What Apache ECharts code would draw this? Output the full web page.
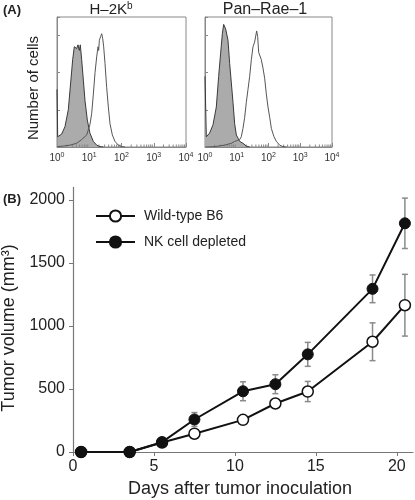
<!DOCTYPE html>
<html><head><meta charset="utf-8">
<script src="https://cdn.jsdelivr.net/npm/echarts@6/dist/echarts.min.js"></script>
<style>html,body{margin:0;padding:0;background:#fff}#c{width:415px;height:500px}</style>
</head><body><div id="c"></div>
<script>
// ---- Panel A: flow cytometry histograms (fluorescence, relative cell count) ----
const h2kIsoX = [1, 1.05, 1.40, 1.77, 2.24, 2.65, 3.06, 3.44, 3.79, 4.07, 4.48, 4.92, 5.28, 5.82, 6.56, 7.38, 8.71, 10.5, 13.4, 17.0, 21.5, 27.5];
const h2kIsoY = [62, 11, 14, 22, 40, 69, 94, 108, 110, 106, 110, 104, 110, 94, 72, 50, 29, 15, 6, 2, 0.4, 0];
const h2kStainX = [1.02, 1.57, 2.53, 4.07, 5.82, 8.32, 10.5, 11.9, 13.4, 15.1, 17.0, 18.7, 19.6, 20.6, 22.6, 24.3, 26.1, 28.0, 30.8, 34.7, 39.1, 44.0, 52.0, 62.8, 79.8, 101, 129];
const h2kStainY = [0.4, 1, 2, 4, 8, 13, 24, 36, 57, 80, 97, 108, 104, 115, 119, 122, 117, 108, 90, 64, 43, 25, 13, 6, 2, 0.4, 0];
const raeIsoX = [1, 1.10, 1.40, 1.79, 2.27, 2.69, 3.11, 3.52, 3.87, 4.16, 4.48, 4.81, 5.30, 5.98, 6.75, 7.62, 8.60, 9.70, 12.4, 15.7, 20.0, 25.5];
const raeIsoY = [76, 11, 15, 24, 43, 76, 101, 122, 132, 134, 127, 129, 115, 90, 69, 48, 25, 13, 6, 4, 1, 0];
const raeStainX = [1.02, 2.01, 4.16, 6.75, 8.60, 10.4, 12.4, 13.9, 15.7, 17.8, 20.0, 22.6, 25.5, 28.8, 32.5, 36.6, 39.4, 42.4, 45.6, 49.0, 52.7, 59.4, 67.1, 75.7, 85.5, 96.4, 109, 123, 149, 177, 225, 286, 365];
const raeStainY = [0, 0.4, 2, 4, 6, 7, 8, 11, 20, 32, 48, 62, 76, 94, 108, 113, 112, 125, 119, 102, 104, 94, 85, 74, 57, 43, 32, 20, 11, 6, 2, 0.4, 0];
const logMinorTicks = [2,3,4,5,6,7,8,9,20,30,40,50,60,70,80,90,200,300,400,500,600,700,800,900,2000,3000,4000,5000,6000,7000,8000,9000];

// ---- Panel B: tumor growth ----
const days = [0.5, 3.5, 5.5, 7.5, 10.5, 12.5, 14.5, 18.5, 20.5];
const wtMean = [0, 0, 75, 145, 255, 385, 480, 875, 1165];
const wtErr = [0, 0, 0, 15, 15, 30, 80, 150, 245];
const nkMean = [0, 0, 78, 258, 482, 538, 775, 1295, 1815];
const nkErr = [0, 0, 10, 55, 75, 75, 95, 110, 200];
const yTicksB = [0, 500, 1000, 1500, 2000];
const xTicksB = [0, 5, 10, 15, 20];
const legendNames = ['Wild-type B6', 'NK cell depleted'];

const FONT = 'Liberation Sans, Arial, Helvetica, sans-serif';
const zip = (a, b) => a.map((v, i) => [v, b[i]]);
const TXT = '#222';

function histX(idx) {
  return {
    type: 'log', logBase: 10, min: 1, max: 10000, gridIndex: idx,
    axisLine: { lineStyle: { color: '#888', width: 1 } },
    axisTick: { inside: true, length: 4, lineStyle: { color: '#888' } },
    splitLine: { show: false },
    axisLabel: {
      margin: 5, fontFamily: FONT, fontSize: 10, color: '#333',
      formatter: v => '10{s|' + Math.round(Math.log10(v)) + '}',
      rich: { s: { fontSize: 7, fontFamily: FONT, color: '#333', verticalAlign: 'bottom', padding: [0, 0, 6, 0] } }
    }
  };
}
function histY(idx) {
  return {
    type: 'value', min: 0, max: 140, interval: 40, gridIndex: idx,
    axisLine: { show: true, lineStyle: { color: '#888' } },
    axisTick: { show: true, inside: true, length: 3, lineStyle: { color: '#888' } },
    axisLabel: { show: false }, splitLine: { show: false }
  };
}
function minorTickSeries(idx) {
  return {
    type: 'custom', xAxisIndex: idx, yAxisIndex: idx, silent: true,
    data: logMinorTicks.map(v => [v, 0]),
    renderItem: (params, api) => {
      const p = api.coord([api.value(0), 0]);
      return { type: 'line', shape: { x1: p[0], y1: p[1], x2: p[0], y2: p[1] - 2.5 }, style: { stroke: '#888', lineWidth: 1 } };
    }
  };
}
function errSeries(mean, err) {
  return {
    type: 'custom', xAxisIndex: 2, yAxisIndex: 2, z: 1, silent: true,
    data: days.map((d, i) => [d, mean[i], err[i]]),
    renderItem: (params, api) => {
      const x = api.value(0), m = api.value(1), e = api.value(2);
      if (!e) return null;
      const t = api.coord([x, m + e]), b = api.coord([x, m - e]);
      const st = { stroke: '#8a8a8a', lineWidth: 1.5 };
      const cw = 3;
      return { type: 'group', children: [
        { type: 'line', shape: { x1: t[0], y1: t[1], x2: b[0], y2: b[1] }, style: st },
        { type: 'line', shape: { x1: t[0] - cw, y1: t[1], x2: t[0] + cw, y2: t[1] }, style: st },
        { type: 'line', shape: { x1: b[0] - cw, y1: b[1], x2: b[0] + cw, y2: b[1] }, style: st }
      ]};
    }
  };
}

const chart = echarts.init(document.getElementById('c'), null, { renderer: 'canvas' });
chart.setOption({
  animation: false,
  backgroundColor: '#fff',
  textStyle: { fontFamily: FONT },
  grid: [
    { left: 57, top: 17, width: 129, height: 130, show: true, borderColor: '#888', borderWidth: 1 },
    { left: 205, top: 17, width: 127, height: 130, show: true, borderColor: '#888', borderWidth: 1 },
    { left: 73, top: 187.4, width: 340, height: 264.6 }
  ],
  xAxis: [
    histX(0), histX(1),
    {
      type: 'value', gridIndex: 2, min: 0, max: 21,
      axisLine: { lineStyle: { color: '#777', width: 1.2 } },
      axisTick: { length: 4, customValues: xTicksB, lineStyle: { color: '#777' } },
      axisLabel: { customValues: xTicksB, margin: 7, fontSize: 16, fontFamily: FONT, color: TXT, formatter: v => String(v) },
      splitLine: { show: false }
    }
  ],
  yAxis: [
    histY(0), histY(1),
    {
      type: 'value', gridIndex: 2, min: 0, max: 2100,
      axisLine: { show: true, lineStyle: { color: '#777', width: 1.2 } },
      axisTick: { show: true, length: 4, customValues: yTicksB, lineStyle: { color: '#777' } },
      axisLabel: { customValues: yTicksB, margin: 8, fontSize: 16, fontFamily: FONT, color: TXT, formatter: v => String(v) },
      splitLine: { show: false }
    }
  ],
  legend: {
    data: legendNames, orient: 'vertical', left: 90, top: 204,
    itemWidth: 39, itemHeight: 14, itemGap: 12,
    textStyle: { fontSize: 14, fontFamily: FONT, color: TXT, padding: [0, 0, 0, 4] }
  },
  series: [
    { type: 'line', xAxisIndex: 0, yAxisIndex: 0, data: zip(h2kIsoX, h2kIsoY), showSymbol: false, symbol: 'none',
      lineStyle: { color: '#3a3a3a', width: 1 }, areaStyle: { color: '#ababab', opacity: 1 }, z: 2 },
    { type: 'line', xAxisIndex: 0, yAxisIndex: 0, data: zip(h2kStainX, h2kStainY), showSymbol: false, symbol: 'none',
      lineStyle: { color: '#555', width: 1 }, z: 3 },
    { type: 'line', xAxisIndex: 1, yAxisIndex: 1, data: zip(raeIsoX, raeIsoY), showSymbol: false, symbol: 'none',
      lineStyle: { color: '#3a3a3a', width: 1 }, areaStyle: { color: '#ababab', opacity: 1 }, z: 2 },
    { type: 'line', xAxisIndex: 1, yAxisIndex: 1, data: zip(raeStainX, raeStainY), showSymbol: false, symbol: 'none',
      lineStyle: { color: '#555', width: 1 }, z: 3 },
    minorTickSeries(0), minorTickSeries(1),
    errSeries(wtMean, wtErr), errSeries(nkMean, nkErr),
    { name: legendNames[0], type: 'line', xAxisIndex: 2, yAxisIndex: 2, data: zip(days, wtMean), z: 3,
      symbol: 'circle', symbolSize: 11, lineStyle: { color: '#111', width: 2 },
      itemStyle: { color: '#fff', borderColor: '#111', borderWidth: 1.5 } },
    { name: legendNames[1], type: 'line', xAxisIndex: 2, yAxisIndex: 2, data: zip(days, nkMean), z: 4,
      symbol: 'circle', symbolSize: 11, lineStyle: { color: '#111', width: 2 },
      itemStyle: { color: '#111', borderColor: '#111', borderWidth: 1 } }
  ],
  graphic: [
    { type: 'text', x: 3, y: 10, style: { text: '(A)', font: 'bold 13px ' + FONT, fill: TXT, verticalAlign: 'middle' } },
    { type: 'text', x: 3, y: 199, style: { text: '(B)', font: 'bold 13px ' + FONT, fill: TXT, verticalAlign: 'middle' } },
    { type: 'text', x: 111, y: 10, style: { text: 'H–2K{s|b}', font: '15px ' + FONT, fill: TXT, align: 'center', verticalAlign: 'middle',
      rich: { s: { fontSize: 10, fontFamily: FONT, fill: TXT, verticalAlign: 'bottom', padding: [0, 0, 7, 0] } } } },
    { type: 'text', x: 265, y: 10, style: { text: 'Pan–Rae–1', font: '16px ' + FONT, fill: TXT, align: 'center', verticalAlign: 'middle' } },
    { type: 'text', x: 34, y: 88, rotation: Math.PI / 2, style: { text: 'Number of cells', font: '15px ' + FONT, fill: TXT, align: 'center', verticalAlign: 'middle' } },
    { type: 'text', x: 9, y: 328, rotation: Math.PI / 2, style: { text: 'Tumor volume (mm³)', font: '18px ' + FONT, fill: TXT, align: 'center', verticalAlign: 'middle' } },
    { type: 'text', x: 240, y: 489, style: { text: 'Days after tumor inoculation', font: '18px ' + FONT, fill: TXT, align: 'center', verticalAlign: 'middle' } }
  ]
});
</script>
</body></html>
